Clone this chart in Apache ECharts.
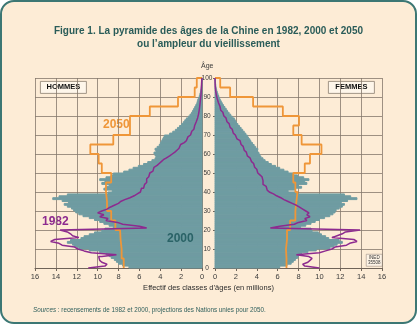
<!DOCTYPE html>
<html>
<head>
<meta charset="utf-8">
<script src="https://cdn.jsdelivr.net/npm/echarts/dist/echarts.min.js"></script>
<style>
  html, body { margin: 0; padding: 0; background: #ffffff; }
  #card {
    position: absolute; left: 0; top: 0; width: 417px; height: 324px;
    box-sizing: border-box; border: 2px solid #3c7774; border-radius: 14px;
    background: #fdecd6;
  }
  #chart { position: absolute; left: 0; top: 0; width: 417px; height: 324px; }
</style>
</head>
<body>
<div id="card"></div>
<div id="chart"></div>
<script>
// Population of China by single year of age (millions), ages 0..99
const men2000 = [
  7.0, 7.6, 8.0, 8.2, 8.4, 8.7, 8.9, 9.2, 9.8, 10.8,
  11.8, 12.2, 12.4, 12.9, 12.6, 11.6, 11.3, 10.8, 10.3, 9.6,
  9.3, 8.5, 8.9, 9.4, 9.8, 10.3, 10.8, 11.4, 11.8, 12.1,
  12.3, 12.5, 12.9, 13.2, 12.8, 13.4, 14.3, 13.7, 12.9, 9.0,
  8.6, 9.4, 9.2, 8.9, 9.6, 9.3, 9.8, 9.2, 8.7, 8.5,
  7.5, 7.0, 6.6, 6.1, 5.6, 5.2, 4.8, 4.5, 4.4, 4.5,
  4.6, 4.4, 4.5, 4.3, 4.1, 4.0, 3.9, 3.8, 3.7, 3.6,
  3.1, 2.8, 2.55, 2.35, 2.15, 1.95, 1.8, 1.65, 1.5, 1.3,
  1.15, 1.0, 0.9, 0.8, 0.7, 0.6, 0.5, 0.45, 0.4, 0.32,
  0.25, 0.2, 0.15, 0.11, 0.08, 0.06, 0.04, 0.03, 0.02, 0.01
];
const women2000 = [
  6.2, 6.9, 7.3, 7.5, 7.7, 7.9, 8.0, 8.3, 8.9, 9.7,
  11.0, 11.4, 11.7, 12.2, 11.9, 10.9, 10.6, 10.2, 9.9, 9.3,
  9.2, 8.2, 8.7, 9.2, 9.6, 10.0, 10.5, 11.0, 11.3, 11.5,
  11.6, 11.9, 12.2, 12.4, 12.1, 12.7, 13.6, 13.0, 12.4, 7.8,
  7.0, 7.7, 8.3, 8.0, 8.8, 8.6, 9.0, 8.5, 7.9, 7.5,
  7.0, 6.6, 6.2, 5.8, 5.4, 5.1, 4.8, 4.6, 4.4, 4.3,
  4.2, 4.05, 4.1, 3.9, 3.75, 3.6, 3.45, 3.35, 3.2, 3.1,
  2.95, 2.8, 2.65, 2.5, 2.35, 2.2, 2.05, 1.95, 1.85, 1.65,
  1.5, 1.35, 1.2, 1.08, 0.95, 0.82, 0.7, 0.6, 0.5, 0.42,
  0.35, 0.28, 0.22, 0.16, 0.12, 0.09, 0.07, 0.05, 0.03, 0.02
];
const men1982 = [
  10.9, 9.3, 9.1, 9.6, 9.8, 9.9, 9.6, 8.2, 10.6, 11.3,
  11.9, 12.2, 13.4, 13.7, 14.5, 14.1, 11.8, 12.4, 12.6, 12.9,
  13.6, 5.3, 6.0, 7.6, 8.1, 9.2, 9.0, 9.8, 9.4, 10.0,
  9.6, 9.1, 8.8, 8.4, 8.0, 7.8, 7.4, 6.9, 6.5, 6.2,
  5.9, 5.8, 5.6, 5.5, 5.4, 5.3, 5.3, 5.2, 5.1, 5.0,
  4.9, 4.7, 4.6, 4.5, 4.3, 4.1, 3.9, 3.7, 3.4, 3.1,
  2.85, 2.6, 2.4, 2.2, 2.05, 1.9, 1.7, 1.5, 1.35, 1.2,
  1.1, 0.98, 0.88, 0.78, 0.7, 0.62, 0.55, 0.48, 0.42, 0.37,
  0.33, 0.3, 0.27, 0.24, 0.22, 0.2, 0.18, 0.16, 0.14, 0.12,
  0.1, 0.09, 0.08, 0.07, 0.06, 0.05, 0.04, 0.03, 0.02, 0.01
];
const women1982 = [
  10.0, 8.6, 8.4, 8.9, 9.1, 9.3, 9.0, 7.8, 10.0, 10.6,
  11.2, 11.5, 12.6, 12.9, 13.6, 13.3, 11.2, 11.7, 12.2, 12.5,
  13.9, 5.3, 6.2, 7.6, 8.0, 8.8, 8.6, 9.1, 8.8, 9.0,
  8.7, 8.4, 8.1, 7.8, 7.4, 7.0, 6.6, 6.3, 5.9, 5.6,
  5.2, 5.0, 4.9, 4.8, 4.6, 4.6, 4.6, 4.5, 4.5, 4.3,
  4.1, 4.0, 3.9, 3.8, 3.7, 3.6, 3.5, 3.35, 3.2, 3.1,
  3.0, 2.9, 2.8, 2.7, 2.6, 2.5, 2.4, 2.25, 2.1, 1.95,
  1.85, 1.75, 1.65, 1.55, 1.45, 1.35, 1.25, 1.15, 1.05, 0.95,
  0.85, 0.75, 0.65, 0.55, 0.48, 0.4, 0.33, 0.27, 0.22, 0.17,
  0.13, 0.1, 0.07, 0.05, 0.03, 0.02, 0.01, 0.01, 0.0, 0.0
];
// 2050 projection, five-year age groups (mean size of one year of age, millions)
const groupStarts2050 = [0, 5, 10, 15, 20, 25, 30, 35, 40, 45, 50, 55, 60, 65, 70, 75, 80, 85, 90, 95];
const men2050 = [7.5, 7.7, 7.8, 7.85, 8.3, 8.7, 9.1, 9.2, 9.2, 8.7, 9.6, 9.9, 10.7, 8.5, 6.9, 6.9, 5.0, 2.3, 0.7, 0.5];
const women2050 = [6.85, 6.8, 6.9, 6.9, 7.2, 7.7, 7.8, 7.9, 7.7, 7.5, 8.6, 9.1, 10.2, 8.3, 7.5, 8.05, 6.5, 3.65, 1.45, 0.5];

const TEAL = '#6f9ca2', PURPLE = '#8d2a8f', ORANGE = '#ef9638', GRID = '#85786c';

// outline of a step curve: each value spans [start, start + width) on the age axis
function steps(values, starts, width, closeTop) {
  const pts = [];
  values.forEach(function (v, i) {
    pts.push([v, starts[i]], [v, starts[i] + width]);
  });
  if (closeTop) pts.push([0, starts[starts.length - 1] + width]);
  return pts;
}
const singleAges = men2000.map(function (_, i) { return i; });

// one horizontal bar per single year of age
function barRenderer(params, api) {
  const v = api.value(0), a = api.value(1);
  const p0 = api.coord([0, a]);
  const p1 = api.coord([v, a + 1]);
  return {
    type: 'rect',
    shape: { x: Math.min(p0[0], p1[0]), y: p1[1], width: Math.abs(p1[0] - p0[0]), height: p0[1] - p1[1] },
    style: { fill: TEAL, stroke: TEAL, lineWidth: 1 }
  };
}

function xAxis(gridIndex, inverse) {
  return {
    type: 'value', gridIndex: gridIndex, min: 0, max: 16, interval: 2, inverse: inverse,
    axisLine: { show: true, lineStyle: { color: '#6f6358', width: 1 } },
    axisTick: { show: true, length: 3, lineStyle: { color: '#6f6358' } },
    axisLabel: { fontSize: 7.5, color: '#3a3a3a', margin: 5, fontFamily: 'Liberation Sans' },
    splitLine: { show: true, lineStyle: { color: GRID, width: 0.8 } }
  };
}
function yAxis(gridIndex, position, showLabels) {
  return {
    type: 'value', gridIndex: gridIndex, min: 0, max: 100, interval: 10, position: position,
    axisLine: { show: true, lineStyle: { color: GRID, width: 0.8 } },
    axisTick: { show: showLabels, length: 2, lineStyle: { color: '#6f6358' } },
    axisLabel: { show: showLabels, align: 'center', margin: 8, fontSize: 6.5, color: '#3a3a3a', fontFamily: 'Liberation Sans' },
    splitLine: { show: true, lineStyle: { color: GRID, width: 0.8 } }
  };
}

const chart = echarts.init(document.getElementById('chart'), null, { renderer: 'canvas' });
chart.setOption({
  backgroundColor: 'transparent',
  animation: false,
  title: {
    text: 'Figure 1. La pyramide des âges de la Chine en 1982, 2000 et 2050\nou l\u2019ampleur du vieillissement',
    left: 'center', top: 20,
    textStyle: { fontSize: 10, fontWeight: 'bold', color: '#2a5c59', lineHeight: 13, fontFamily: 'Liberation Sans' }
  },
  grid: [
    { left: 35, top: 78, width: 167, height: 190 },
    { left: 215, top: 78, width: 167, height: 190 }
  ],
  xAxis: [xAxis(0, true), xAxis(1, false)],
  yAxis: [yAxis(0, 'right', false), yAxis(1, 'left', true)],
  series: [
    { type: 'custom', name: 'Hommes 2000', xAxisIndex: 0, yAxisIndex: 0, renderItem: barRenderer,
      encode: { x: 0, y: 1 }, data: men2000.map(function (v, i) { return [v, singleAges[i]]; }), z: 2 },
    { type: 'custom', name: 'Femmes 2000', xAxisIndex: 1, yAxisIndex: 1, renderItem: barRenderer,
      encode: { x: 0, y: 1 }, data: women2000.map(function (v, i) { return [v, singleAges[i]]; }), z: 2 },
    { type: 'line', name: 'Hommes 2050', xAxisIndex: 0, yAxisIndex: 0, showSymbol: false, z: 3,
      lineStyle: { color: ORANGE, width: 1.8 }, data: steps(men2050, groupStarts2050, 5, true) },
    { type: 'line', name: 'Femmes 2050', xAxisIndex: 1, yAxisIndex: 1, showSymbol: false, z: 3,
      lineStyle: { color: ORANGE, width: 1.8 }, data: steps(women2050, groupStarts2050, 5, true) },
    { type: 'line', name: 'Hommes 1982', xAxisIndex: 0, yAxisIndex: 0, showSymbol: false, z: 4,
      lineStyle: { color: PURPLE, width: 1.5 }, data: steps(men1982, singleAges, 1, false) },
    { type: 'line', name: 'Femmes 1982', xAxisIndex: 1, yAxisIndex: 1, showSymbol: false, z: 4,
      lineStyle: { color: PURPLE, width: 1.5 }, data: steps(women1982, singleAges, 1, false) }
  ],
  graphic: [
    { type: 'text', left: 201, top: 63, style: { text: 'Âge', fontSize: 7, fill: '#3a3a3a', fontFamily: 'Liberation Sans' } },
    { type: 'group', left: 40, top: 81, children: [
      { type: 'rect', shape: { x: 0, y: 0, width: 46, height: 12 }, style: { fill: '#fef6ea', stroke: '#8a7d70', lineWidth: 0.8 } },
      { type: 'text', style: { x: 23, y: 6, text: 'HOMMES', align: 'center', verticalAlign: 'middle', fontSize: 7.5, fontWeight: 'bold', fill: '#111', fontFamily: 'Liberation Sans' } }
    ] },
    { type: 'group', left: 328, top: 81, children: [
      { type: 'rect', shape: { x: 0, y: 0, width: 46, height: 12 }, style: { fill: '#fef6ea', stroke: '#8a7d70', lineWidth: 0.8 } },
      { type: 'text', style: { x: 23, y: 6, text: 'FEMMES', align: 'center', verticalAlign: 'middle', fontSize: 7.5, fontWeight: 'bold', fill: '#111', fontFamily: 'Liberation Sans' } }
    ] },
    { type: 'text', left: 103, top: 119, style: { text: '2050', fontSize: 12, fontWeight: 'bold', fill: ORANGE, fontFamily: 'Liberation Sans' } },
    { type: 'text', left: 42, top: 216, style: { text: '1982', fontSize: 12, fontWeight: 'bold', fill: PURPLE, fontFamily: 'Liberation Sans' } },
    { type: 'text', left: 167, top: 233, z: 10, style: { text: '2000', fontSize: 12, fontWeight: 'bold', fill: '#2a6367', fontFamily: 'Liberation Sans' } },
    { type: 'group', left: 366, top: 254, children: [
      { type: 'rect', shape: { x: 0, y: 0, width: 16, height: 12 }, style: { fill: '#fdf3e6', stroke: '#8a7d70', lineWidth: 0.5 } },
      { type: 'text', style: { x: 8, y: 3.5, text: 'INED', align: 'center', verticalAlign: 'middle', fontSize: 4.5, fill: '#333', fontFamily: 'Liberation Sans' } },
      { type: 'text', style: { x: 8, y: 8.5, text: '35508', align: 'center', verticalAlign: 'middle', fontSize: 4.5, fill: '#333', fontFamily: 'Liberation Sans' } }
    ] },
    { type: 'text', left: 'center', top: 284, style: { text: 'Effectif des classes d\u2019âges (en millions)', fontSize: 7.5, fill: '#2b2b2b', fontFamily: 'Liberation Sans' } },
    { type: 'text', left: 33, top: 307, style: {
      text: '{i|Sources} : recensements de 1982 et 2000, projections des Nations unies pour 2050.',
      fontSize: 6.3, fill: '#2f5f5c', fontFamily: 'Liberation Sans',
      rich: { i: { fontStyle: 'italic', fontSize: 6.3, fill: '#2f5f5c', fontFamily: 'Liberation Sans' } }
    } }
  ]
});
</script>
</body>
</html>
